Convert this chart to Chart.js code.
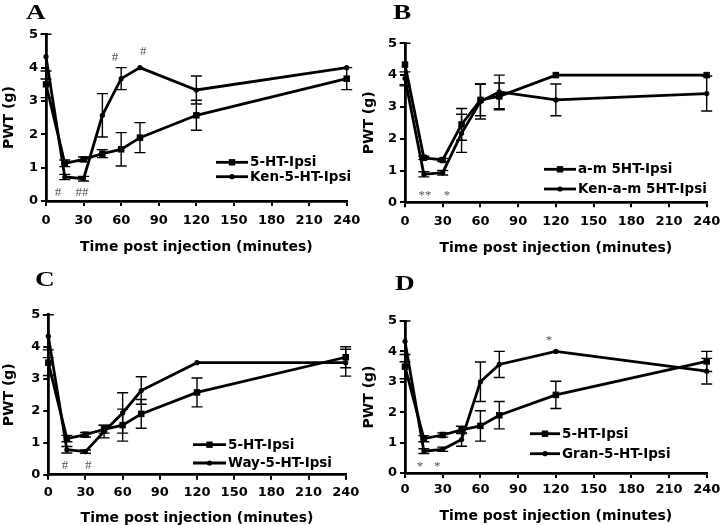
<!DOCTYPE html>
<html><head><meta charset="utf-8">
<script src="https://cdn.jsdelivr.net/npm/chart.js@4.4.0/dist/chart.umd.min.js"></script>
<style>
html,body{margin:0;padding:0;background:#fff;}
#wrap{position:relative;width:720px;height:525px;overflow:hidden;background:#fff;}
canvas{position:absolute;}
.letter{position:absolute;font-family:"Liberation Serif","Times New Roman",serif;font-weight:bold;font-size:21px;line-height:1;color:#000;transform:scaleX(1.3);transform-origin:left top;}
</style></head><body>
<div id="wrap">
<canvas id="cA" style="left:0;top:0" width="360" height="262"></canvas>
<canvas id="cB" style="left:360px;top:0" width="360" height="262"></canvas>
<canvas id="cC" style="left:0;top:262px" width="360" height="263"></canvas>
<canvas id="cD" style="left:360px;top:262px" width="360" height="263"></canvas>
<div class="letter" style="left:26px;top:2px">A</div>
<div class="letter" style="left:393px;top:2px">B</div>
<div class="letter" style="left:35px;top:269px">C</div>
<div class="letter" style="left:395px;top:273px">D</div>
</div>
<script>
// ---- data ----
const times = [0, 15, 30, 45, 60, 75, 120, 240];
const xTickStep = 30;
const yTickStep = 1;

const ht5Ipsi      = [3.5, 1.13, 1.25, 1.42, 1.55, 1.9, 2.57, 3.67];
const ht5IpsiErr   = [0.4, 0.1, 0.07, 0.12, 0.5, 0.45, 0.45, 0.33];

const kenHt5Ipsi    = [4.33, 0.72, 0.67, 2.57, 3.67, 4.0, 3.33, 4.0];
const kenHt5IpsiErr = [0.67, 0.08, 0.07, 0.65, 0.33, 0, 0.42, 0];

const amHt5Ipsi     = [4.33, 1.4, 1.33, 2.45, 3.22, 3.33, 4.0, 4.0];
const amHt5IpsiErr  = [0.67, 0.05, 0.05, 0.5, 0.5, 0.42, 0, 0];

const kenAmHt5Ipsi    = [3.9, 0.88, 0.93, 2.17, 3.17, 3.47, 3.22, 3.42];
const kenAmHt5IpsiErr = [0.2, 0.08, 0.07, 0.6, 0.55, 0.53, 0.5, 0.55];

const wayHt5Ipsi    = [4.33, 0.78, 0.72, 1.35, 1.93, 2.63, 3.5, 3.5];
const wayHt5IpsiErr = [0.67, 0.1, 0.05, 0.2, 0.63, 0.43, 0, 0.42];

const granHt5Ipsi    = [4.33, 0.72, 0.78, 1.1, 3.0, 3.57, 4.0, 3.35];
const granHt5IpsiErr = [0.67, 0.08, 0.07, 0.22, 0.65, 0.43, 0, 0.42];

// significance marks (time, PWT, label)
const marksA = [[9.6, 0.24, '#'], [28.8, 0.24, '##'], [55, 4.3, '#'], [77.6, 4.47, '#']];
const marksB = [[16, 0.29, '**'], [33.4, 0.29, '*']];
const marksC = [[13.5, 0.3, '#'], [32.3, 0.3, '#']];
const marksD = [[12, 0.3, '*'], [25.7, 0.3, '*'], [114.6, 4.47, '*']];

// ---- rendering ----
const FONT = '"DejaVu Sans", Verdana, sans-serif';

function series(label, vals, errs, square) {
  return {
    label: label,
    data: times.map((t, i) => ({x: t, y: vals[i]})),
    errors: errs,
    borderColor: '#000', backgroundColor: '#000',
    borderWidth: 2.8,
    pointStyle: square ? 'rect' : 'circle',
    pointRadius: square ? 4.6 : 2.6,
    pointBorderWidth: 0,
    tension: 0,
    clip: false
  };
}

const errorBarPlugin = {
  id: 'errbars',
  afterDatasetsDraw(chart) {
    const ctx = chart.ctx, ys = chart.scales.y;
    ctx.save();
    ctx.strokeStyle = '#000';
    ctx.lineWidth = 1.4;
    chart.data.datasets.forEach((ds, di) => {
      const meta = chart.getDatasetMeta(di);
      meta.data.forEach((pt, i) => {
        const e = ds.errors[i];
        if (!e) return;
        const v = ds.data[i].y;
        const y1 = ys.getPixelForValue(v + e), y2 = ys.getPixelForValue(v - e);
        const x = pt.x;
        ctx.beginPath();
        ctx.moveTo(x, y1); ctx.lineTo(x, y2);
        ctx.moveTo(x - 5.5, y1); ctx.lineTo(x + 5.5, y1);
        ctx.moveTo(x - 5.5, y2); ctx.lineTo(x + 5.5, y2);
        ctx.stroke();
      });
    });
    ctx.restore();
  }
};

const extrasPlugin = {
  id: 'extras',
  afterDraw(chart) {
    const o = chart.options.plugins.extras;
    const ctx = chart.ctx, xs = chart.scales.x, ys = chart.scales.y;
    ctx.save();
    // significance marks
    ctx.fillStyle = '#555';
    ctx.font = '13px "Liberation Serif", serif';
    ctx.textAlign = 'center';
    ctx.textBaseline = 'middle';
    o.marks.forEach(m => {
      const dy = m[2].indexOf('*') >= 0 ? 3 : 0;
      ctx.fillText(m[2], xs.getPixelForValue(m[0]), ys.getPixelForValue(m[1]) + dy);
    });
    // legend
    ctx.font = 'bold 13.5px ' + FONT;
    ctx.textAlign = 'left';
    ctx.fillStyle = '#000';
    chart.data.datasets.forEach((ds, i) => {
      const y = o.legend.rows[i];
      const x1 = o.legend.x1, x2 = o.legend.x2;
      ctx.strokeStyle = '#000';
      ctx.lineWidth = 2.8;
      ctx.beginPath(); ctx.moveTo(x1, y); ctx.lineTo(x2, y); ctx.stroke();
      const xm = (x1 + x2) / 2;
      ctx.beginPath();
      if (ds.pointStyle === 'rect') ctx.rect(xm - 3.2, y - 3.2, 6.4, 6.4);
      else ctx.arc(xm, y, 2.6, 0, Math.PI * 2);
      ctx.fill();
      ctx.fillText(ds.label, x2 + 2, y + 0.5);
    });
    ctx.restore();
  }
};

function makePanel(id, g, datasets, marks, legend) {
  new Chart(document.getElementById(id), {
    type: 'line',
    data: {datasets: datasets},
    plugins: [errorBarPlugin, extrasPlugin],
    options: {
      responsive: false, animation: false,
      layout: {padding: {left: 0, top: g.top, right: g.right, bottom: 0}},
      plugins: {legend: {display: false}, tooltip: {enabled: false},
                extras: {marks: marks, legend: legend}},
      scales: {
        x: {
          type: 'linear', min: 0, max: 240,
          ticks: {stepSize: xTickStep, color: '#000', padding: g.tickPad,
                  font: {family: FONT, size: 13, weight: 'bold'}, maxRotation: 0},
          grid: {display: true, drawOnChartArea: false, drawTicks: true, tickLength: 5, color: '#000', lineWidth: 2},
          border: {display: true, color: '#000', width: 2.8},
          title: {display: true, text: 'Time post injection (minutes)', color: '#000',
                  font: {family: FONT, size: 14, weight: 'bold', lineHeight: 1},
                  padding: {top: 0, bottom: g.titlePad}},
          afterFit(s) { s.height = g.xh; s.paddingLeft = 0; s.paddingRight = 0; }
        },
        y: {
          min: 0, max: 5,
          ticks: {stepSize: yTickStep, color: '#000', padding: 3,
                  font: {family: FONT, size: 13, weight: 'bold'}},
          grid: {display: true, drawOnChartArea: false, drawTicks: true, tickLength: 5, color: '#000', lineWidth: 2},
          border: {display: true, color: '#000', width: 2.8},
          title: {display: true, text: 'PWT (g)', color: '#000',
                  font: {family: FONT, size: 14, weight: 'bold', lineHeight: 1},
                  padding: {top: 2, bottom: 0}},
          afterFit(s) { s.width = g.yw; s.paddingTop = 0; s.paddingBottom = 0; }
        }
      }
    }
  });
}

makePanel('cA', {top: 34.3, right: 13.3, xh: 61, yw: 46, tickPad: 7, titlePad: 8},
  [series('5-HT-Ipsi', ht5Ipsi, ht5IpsiErr, true), series('Ken-5-HT-Ipsi', kenHt5Ipsi, kenHt5IpsiErr, false)],
  marksA, {x1: 216, x2: 248, rows: [162.3, 176.7]});
makePanel('cB', {top: 43.3, right: 13.3, xh: 59.7, yw: 45, tickPad: 7, titlePad: 7},
  [series('a-m 5HT-Ipsi', amHt5Ipsi, amHt5IpsiErr, true), series('Ken-a-m 5HT-Ipsi', kenAmHt5Ipsi, kenAmHt5IpsiErr, false)],
  marksB, {x1: 184, x2: 216, rows: [169.3, 189]});
makePanel('cC', {top: 52.7, right: 14.3, xh: 50.3, yw: 48.3, tickPad: 5, titlePad: 0},
  [series('5-HT-Ipsi', ht5Ipsi, ht5IpsiErr, true), series('Way-5-HT-Ipsi', wayHt5Ipsi, wayHt5IpsiErr, false)],
  marksC, {x1: 193, x2: 226, rows: [182.7, 201]});
makePanel('cD', {top: 59, right: 13.3, xh: 52, yw: 45, tickPad: 4, titlePad: 1.5},
  [series('5-HT-Ipsi', ht5Ipsi, ht5IpsiErr, true), series('Gran-5-HT-Ipsi', granHt5Ipsi, granHt5IpsiErr, false)],
  marksD, {x1: 170, x2: 200, rows: [171.7, 191.7]});
</script>
</body></html>
